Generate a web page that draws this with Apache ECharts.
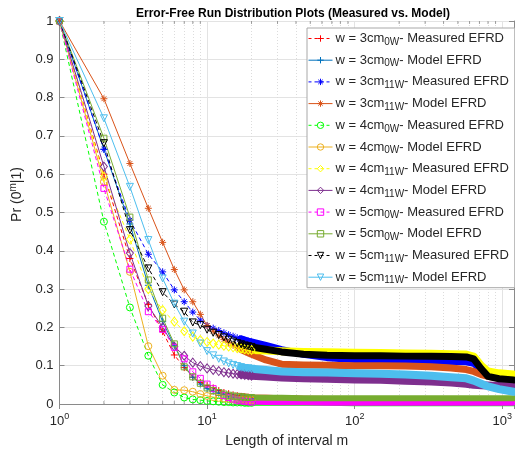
<!DOCTYPE html>
<html>
<head>
<meta charset="utf-8">
<script src="https://cdn.jsdelivr.net/npm/echarts@6/dist/echarts.min.js"></script>
<style>
  html, body { margin: 0; padding: 0; background: #fff; }
  #chart { width: 515px; height: 459px; }
</style>
</head>
<body>
<div id="chart"></div>
<script>
// interval lengths m: 1..20 one by one, then sampled along the tail
const mValues = [1, 2, 3, 4, 5, 6, 7, 8, 9, 10, 11, 12, 13, 14, 15, 16, 17, 18, 19, 20,
  25, 32, 45, 65, 100, 150, 220, 330, 450, 570, 640, 720, 800, 950, 1190];

const w3cm0wMeasured = [1, 0.60, 0.38, 0.26, 0.189, 0.128, 0.095, 0.07, 0.056, 0.048, 0.042, 0.035, 0.03, 0.027, 0.024, 0.022, 0.02, 0.019, 0.018, 0.017,
  0.016, 0.015, 0.014, 0.013, 0.012, 0.012, 0.011, 0.011, 0.01, 0.01, 0.01, 0.01, 0.01, 0.01, 0.01];
const w3cm0wModel = [1, 0.665, 0.47, 0.31, 0.215, 0.152, 0.10, 0.07, 0.052, 0.04, 0.033, 0.028, 0.024, 0.021, 0.019, 0.017, 0.016, 0.015, 0.014, 0.014,
  0.013, 0.012, 0.012, 0.011, 0.011, 0.011, 0.01, 0.01, 0.01, 0.01, 0.01, 0.01, 0.01, 0.01, 0.01];
const w3cm11wMeasured = [1, 0.665, 0.48, 0.391, 0.345, 0.298, 0.267, 0.24, 0.219, 0.205, 0.198, 0.192, 0.186, 0.181, 0.177, 0.173, 0.17, 0.167, 0.164, 0.162,
  0.153, 0.142, 0.13, 0.121, 0.116, 0.114, 0.113, 0.112, 0.111, 0.11, 0.106, 0.09, 0.075, 0.07, 0.068];
const w3cm11wModel = [1, 0.797, 0.628, 0.511, 0.422, 0.351, 0.298, 0.267, 0.234, 0.205, 0.19, 0.178, 0.168, 0.16, 0.153, 0.147, 0.142, 0.138, 0.134, 0.13,
  0.115, 0.104, 0.102, 0.101, 0.1, 0.1, 0.099, 0.097, 0.094, 0.09, 0.085, 0.077, 0.072, 0.067, 0.063];
const w4cm0wMeasured = [1, 0.476, 0.252, 0.126, 0.05, 0.03, 0.017, 0.012, 0.01, 0.008, 0.007, 0.006, 0.005, 0.005, 0.004, 0.004, 0.004, 0.003, 0.003, 0.003,
  0.003, 0.003, 0.003, 0.003, 0.002, 0.002, 0.002, 0.002, 0.002, 0.002, 0.002, 0.002, 0.002, 0.002, 0.002];
const w4cm0wModel = [1, 0.58, 0.345, 0.151, 0.074, 0.037, 0.036, 0.032, 0.026, 0.021, 0.018, 0.016, 0.014, 0.013, 0.012, 0.011, 0.011, 0.01, 0.01, 0.01,
  0.009, 0.009, 0.009, 0.008, 0.008, 0.008, 0.008, 0.008, 0.008, 0.008, 0.008, 0.008, 0.008, 0.008, 0.008];
const w4cm11wMeasured = [1, 0.593, 0.43, 0.30, 0.245, 0.215, 0.19, 0.176, 0.167, 0.162, 0.158, 0.155, 0.152, 0.15, 0.148, 0.146, 0.145, 0.143, 0.142, 0.141,
  0.14, 0.138, 0.136, 0.135, 0.134, 0.133, 0.132, 0.131, 0.13, 0.129, 0.124, 0.10, 0.085, 0.08, 0.077];
const w4cm11wModel = [1, 0.62, 0.394, 0.256, 0.2, 0.15, 0.126, 0.108, 0.099, 0.093, 0.089, 0.086, 0.083, 0.081, 0.079, 0.078, 0.077, 0.076, 0.075, 0.074,
  0.072, 0.069, 0.067, 0.066, 0.064, 0.063, 0.061, 0.059, 0.056, 0.053, 0.05, 0.049, 0.048, 0.047, 0.046];
const w5cm0wMeasured = [1, 0.563, 0.352, 0.241, 0.195, 0.148, 0.118, 0.084, 0.067, 0.052, 0.04, 0.03, 0.022, 0.017, 0.013, 0.01, 0.008, 0.007, 0.006, 0.005,
  0.004, 0.003, 0.003, 0.002, 0.002, 0.002, 0.002, 0.002, 0.002, 0.002, 0.002, 0.002, 0.002, 0.002, 0.002];
const w5cm0wModel = [1, 0.694, 0.488, 0.324, 0.224, 0.157, 0.097, 0.071, 0.054, 0.042, 0.035, 0.03, 0.026, 0.023, 0.021, 0.02, 0.019, 0.018, 0.017, 0.017,
  0.016, 0.016, 0.015, 0.015, 0.015, 0.015, 0.015, 0.015, 0.015, 0.015, 0.015, 0.015, 0.015, 0.015, 0.015];
const w5cm11wMeasured = [1, 0.681, 0.454, 0.354, 0.292, 0.26, 0.241, 0.213, 0.206, 0.194, 0.186, 0.18, 0.174, 0.168, 0.163, 0.159, 0.156, 0.153, 0.151, 0.149,
  0.143, 0.136, 0.13, 0.127, 0.126, 0.126, 0.125, 0.125, 0.124, 0.123, 0.118, 0.092, 0.072, 0.066, 0.063];
const w5cm11wModel = [1, 0.746, 0.567, 0.428, 0.328, 0.262, 0.215, 0.184, 0.158, 0.138, 0.127, 0.118, 0.111, 0.106, 0.102, 0.099, 0.096, 0.094, 0.093, 0.092,
  0.089, 0.085, 0.083, 0.082, 0.08, 0.079, 0.077, 0.074, 0.07, 0.067, 0.061, 0.053, 0.046, 0.039, 0.032];

const seriesNames = [
  'w = 3cm_0W- Measured EFRD', 'w = 3cm_0W- Model EFRD',
  'w = 3cm_11W- Measured EFRD', 'w = 3cm_11W- Model EFRD',
  'w = 4cm_0W- Measured EFRD', 'w = 4cm_0W- Model EFRD',
  'w = 4cm_11W- Measured EFRD', 'w = 4cm_11W- Model EFRD',
  'w = 5cm_0W- Measured EFRD', 'w = 5cm_0W- Model EFRD',
  'w = 5cm_11W- Measured EFRD', 'w = 5cm_11W- Model EFRD'
];
const seriesValues = [
  w3cm0wMeasured, w3cm0wModel, w3cm11wMeasured, w3cm11wModel,
  w4cm0wMeasured, w4cm0wModel, w4cm11wMeasured, w4cm11wModel,
  w5cm0wMeasured, w5cm0wModel, w5cm11wMeasured, w5cm11wModel
];
const yTicks = [0, 0.1, 0.2, 0.3, 0.4, 0.5, 0.6, 0.7, 0.8, 0.9, 1];
const minorGridM = [2, 3, 4, 5, 6, 7, 8, 9, 20, 30, 40, 50, 60, 70, 80, 90, 200, 300, 400, 500, 600, 700, 800, 900];

// marker shapes
const PLUS = 'path://M5,0L5,10M0,5L10,5';
const STAR = 'path://M5,0L5,10M0,5L10,5M1.6,1.6L8.4,8.4M8.4,1.6L1.6,8.4';

const styles = [
  { color: '#ff0000', dashed: true, symbol: PLUS, size: 7, band: 6 },
  { color: '#0072bd', dashed: false, symbol: PLUS, size: 7, band: 6 },
  { color: '#0000ff', dashed: true, symbol: STAR, size: 7, band: 7 },
  { color: '#d95319', dashed: false, symbol: STAR, size: 7, band: 7 },
  { color: '#00ff00', dashed: true, symbol: 'circle', size: 7, band: 6 },
  { color: '#edb120', dashed: false, symbol: 'circle', size: 7, band: 6 },
  { color: '#ffff00', dashed: true, symbol: 'diamond', size: [7, 9], band: 8 },
  { color: '#7e2f8e', dashed: false, symbol: 'diamond', size: [7, 9], band: 8 },
  { color: '#ff00ff', dashed: true, symbol: 'rect', size: 6, band: 5 },
  { color: '#77ac30', dashed: false, symbol: 'rect', size: 6, band: 6 },
  { color: '#000000', dashed: true, symbol: 'triangle', size: 7, rotate: 180, band: 7 },
  { color: '#4dbeee', dashed: false, symbol: 'triangle', size: 7, rotate: 180, band: 8 }
];

const FONT = 'Liberation Sans';
const TXT = '#262626';
const AXIS = '#8a8a8a';

const chart = echarts.init(document.getElementById('chart'));

const series = [];

// dotted minor grid on the log axis, kept below the data
series.push({
  name: 'minorGrid',
  type: 'line',
  data: [],
  silent: true,
  z: 0,
  markLine: {
    silent: true,
    z: 0,
    symbol: ['none', 'none'],
    label: { show: false },
    lineStyle: { color: '#dcdcdc', type: [1, 2], width: 1 },
    data: minorGridM.map((m) => ({ xAxis: m }))
  }
});

// minor ticks on the bottom and top edges
series.push({
  name: 'minorTicks',
  type: 'scatter',
  silent: true,
  z: 1,
  clip: false,
  symbol: 'rect',
  symbolSize: [1, 3],
  itemStyle: { color: AXIS },
  data: minorGridM.map((m) => ({ value: [m, 0], symbolOffset: [0, -1.5] }))
    .concat(minorGridM.map((m) => ({ value: [m, 1], symbolOffset: [0, 1.5] })))
});

seriesValues.forEach((vals, i) => {
  const st = styles[i];
  const lineType = st.dashed ? [4, 3] : 'solid';
  // dense overlapping markers in the tail drawn as a thick band
  const bandData = [];
  mValues.forEach((m, k) => {
    if (m >= 17) bandData.push([m, vals[k]]);
  });
  series.push({
    name: 'band' + i,
    type: 'line',
    data: bandData,
    symbol: 'none',
    silent: true,
    lineStyle: { color: st.color, width: st.band, cap: 'round', join: 'round' }
  });
  series.push({
    name: seriesNames[i],
    type: 'line',
    data: mValues.map((m, k) => (m <= 24 ? [m, vals[k]] : { value: [m, vals[k]], symbol: 'none' })),
    symbol: st.symbol,
    symbolSize: st.size,
    symbolRotate: st.rotate || 0,
    showAllSymbol: true,
    itemStyle: { color: 'rgba(0,0,0,0)', borderColor: st.color, borderWidth: 1 },
    lineStyle: { color: st.color, width: 1, type: lineType }
  });
});

const legendData = seriesNames.map((name, i) => ({
  name: name,
  itemStyle: { color: 'rgba(0,0,0,0)', borderColor: styles[i].color, borderWidth: 1 },
  lineStyle: { color: styles[i].color, width: 1, type: styles[i].dashed ? [3, 3] : 'solid' }
}));

const option = {
  animation: false,
  backgroundColor: '#fff',
  title: {
    text: 'Error-Free Run Distribution Plots (Measured vs. Model)',
    left: 288,
    textAlign: 'center',
    top: 3,
    textStyle: { fontFamily: FONT, fontSize: 12, fontWeight: 'bold', color: '#000' }
  },
  grid: { left: 58, right: 1, top: 21, bottom: 55 },
  legend: {
    data: legendData,
    orient: 'vertical',
    left: 307,
    top: 28,
    padding: [2, 6, 2, 1],
    itemWidth: 24,
    itemHeight: 8,
    itemGap: 4.7,
    backgroundColor: '#fff',
    borderColor: '#a8a8a8',
    borderWidth: 1,
    formatter: (name) => name.replace(/_(\w+)-/, '{sub|$1}-'),
    textStyle: {
      fontFamily: FONT,
      fontSize: 13,
      color: TXT,
      lineHeight: 15,
      padding: [0, 0, 0, -2],
      rich: {
        sub: { fontFamily: FONT, fontSize: 10, color: TXT, lineHeight: 10, padding: [7, 0, 0, 0] }
      }
    }
  },
  xAxis: [
    {
      type: 'log',
      logBase: 10,
      min: 1,
      max: 1200,
      name: 'Length of interval m',
      nameLocation: 'middle',
      nameGap: 30,
      nameTextStyle: { fontFamily: FONT, fontSize: 14, color: TXT },
      axisLine: { lineStyle: { color: AXIS } },
      axisTick: { inside: true, length: 5, lineStyle: { color: AXIS } },
      axisLabel: {
        margin: 8,
        fontFamily: FONT,
        fontSize: 13,
        color: TXT,
        showMaxLabel: false,
        formatter: (v) => {
          const e = Math.log10(v);
          const r = Math.round(e);
          return Math.abs(e - r) < 1e-6 ? '10{sup|' + r + '}' : '';
        },
        rich: {
          sup: { fontFamily: FONT, fontSize: 9, color: TXT, padding: [0, 0, 9, 0] }
        }
      },
      splitLine: { show: true, lineStyle: { color: '#e3e3e3' } }
    },
    {
      type: 'log',
      logBase: 10,
      min: 1,
      max: 1200,
      position: 'top',
      axisLine: { lineStyle: { color: AXIS } },
      axisTick: { inside: true, length: 5, lineStyle: { color: AXIS } },
      axisLabel: { show: false },
      splitLine: { show: false }
    }
  ],
  yAxis: [
    {
      type: 'value',
      min: 0,
      max: 1,
      interval: 0.1,
      name: 'Pr (0{sup|m}|1)',
      nameLocation: 'middle',
      nameGap: 32,
      nameTextStyle: {
        fontFamily: FONT,
        fontSize: 14,
        color: TXT,
        padding: [0, 0, 0, 36],
        rich: { sup: { fontFamily: FONT, fontSize: 10, color: TXT, padding: [0, 0, 9, 0] } }
      },
      axisLine: { show: true, lineStyle: { color: AXIS } },
      axisTick: { show: true, inside: true, length: 5, lineStyle: { color: AXIS } },
      axisLabel: {
        margin: 6,
        fontFamily: FONT,
        fontSize: 13,
        color: TXT,
        formatter: (v) => {
          const t = yTicks.find((y) => Math.abs(y - v) < 1e-9);
          return t === undefined ? '' : String(t);
        }
      },
      splitLine: { show: true, lineStyle: { color: '#e3e3e3' } }
    },
    {
      type: 'value',
      min: 0,
      max: 1,
      interval: 0.1,
      position: 'right',
      axisLine: { show: true, lineStyle: { color: AXIS } },
      axisTick: { show: true, inside: true, length: 5, lineStyle: { color: AXIS } },
      axisLabel: { show: false },
      splitLine: { show: false }
    }
  ],
  series: series
};

chart.setOption(option);
</script>
</body>
</html>
